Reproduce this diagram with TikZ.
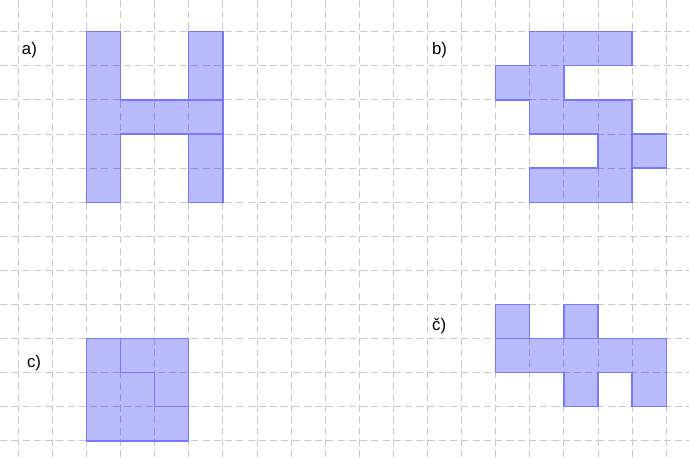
\documentclass[tikz,border=0pt]{standalone}
\usepackage{fontspec}
\setmainfont{Liberation Sans}
\definecolor{edgeBlue}{RGB}{120,120,255}
\definecolor{gridGrey}{RGB}{200,200,200}
\newcommand{\myGrid}{%%
  %% Draw the dashed grid, vertical lines first.
  \foreach \k in {0,...,19} {\draw[gridStyle] (\k,\ytop) -- (\k,\ybot);}
  \foreach \j in {0,...,12} {\draw[gridStyle] (\xleft,-\j) -- (\xright,-\j);}
}

\begin{document}
\begin{tikzpicture}[%%
  gridStyle/.style={gridGrey,line width=0.7pt,dash pattern=on 0.21cm off 0.12cm},%%
  shapeStyle/.style={draw=edgeBlue,line width=1.1pt,fill=blue,fill opacity=0.27},%%
  labelStyle/.style={inner sep=0pt,anchor=base west,font=\fontsize{14}{16}\selectfont}
]
%%
%%
\pgfmathsetmacro{\xleft}{-0.537}
\pgfmathsetmacro{\xright}{19.67}
\pgfmathsetmacro{\ytop}{0.93}
\pgfmathsetmacro{\ybot}{-12.537}
\useasboundingbox (\xleft,\ytop) rectangle (\xright,\ybot);
%%
\myGrid
%%
%% Figure a): the letter H.
\draw[shapeStyle] (2,0) -- (3,0) -- (3,-2) -- (6,-2) -- (6,-3) -- (3,-3)
  -- (3,-5) -- (2,-5) -- cycle;
\draw[shapeStyle] (5,0) rectangle (6,-2);
\draw[shapeStyle] (5,-3) rectangle (6,-5);
\node[labelStyle] (labelA) at (0.1,-0.68) {a)};
%%
%% Figure b).
\draw[shapeStyle] (15,0) -- (18,0) -- (18,-1) -- (16,-1) -- (16,-2) -- (18,-2)
  -- (18,-5) -- (15,-5) -- (15,-4) -- (17,-4) -- (17,-3) -- (15,-3)
  -- (15,-2) -- (14,-2) -- (14,-1) -- (15,-1) -- cycle;
\draw[shapeStyle] (18,-3) rectangle (19,-4);
\node[labelStyle] (labelB) at (12.13,-0.68) {b)};
%%
%% Figure c): a square cut in two.
\draw[shapeStyle] (2,-9) -- (3,-9) -- (3,-10) -- (4,-10) -- (4,-11) -- (5,-11)
  -- (5,-12) -- (2,-12) -- cycle;
\draw[shapeStyle] (3,-9) -- (5,-9) -- (5,-11) -- (4,-11) -- (4,-10) -- (3,-10)
  -- cycle;
\node[labelStyle] (labelC) at (0.25,-9.84) {c)};
%%
%% Figure ch).
\draw[shapeStyle] (14,-9) -- (19,-9) -- (19,-11) -- (18,-11) -- (18,-10)
  -- (17,-10) -- (17,-11) -- (16,-11) -- (16,-10) -- (14,-10) -- cycle;
\draw[shapeStyle] (14,-8) rectangle (15,-9);
\draw[shapeStyle] (16,-8) rectangle (17,-9);
\node[labelStyle] (labelCh) at (12.13,-8.75) {č)};

\end{tikzpicture}
\end{document}
